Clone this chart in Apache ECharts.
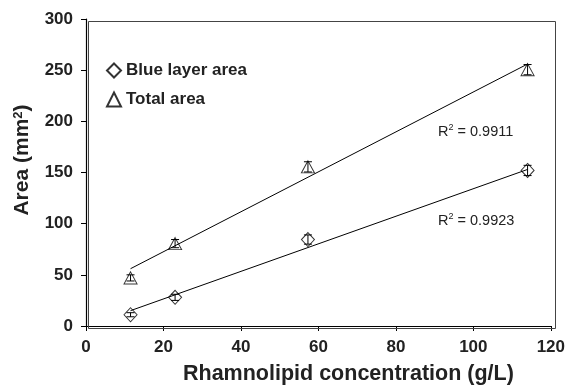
<!DOCTYPE html>
<html>
<head>
<meta charset="utf-8">
<script src="https://cdn.jsdelivr.net/npm/echarts@6/dist/echarts.min.js"></script>
<style>
html,body{margin:0;padding:0;background:#fff;}
#c{width:568px;height:387px;}
</style>
</head>
<body>
<div id="c"></div>
<script>
// ---- data ----
var concentration = [11.5, 23, 57.3, 114];
var blueArea = [11, 28, 84.5, 152];
var blueErr = [2, 3, 4.5, 5];
var totalArea = [47, 80.5, 155.5, 250.5];
var totalErr = [3, 4, 5, 5];
var blueFit = [[11.5, 15], [114, 153]];
var totalFit = [[11.5, 56], [114, 256]];
var xTicks = [0, 20, 40, 60, 80, 100, 120];
var yTicks = [0, 50, 100, 150, 200, 250, 300];
var seriesNames = ['Blue layer area', 'Total area'];

var FONT = 'Liberation Sans, Arial, Helvetica, sans-serif';
var X_MIN = xTicks[0], X_MAX = xTicks[xTicks.length - 1];
var Y_MIN = yTicks[0], Y_MAX = yTicks[yTicks.length - 1];

function pts(xs, ys) { return xs.map(function (x, i) { return [x, ys[i]]; }); }
function errs(xs, ys, es) { return xs.map(function (x, i) { return [x, ys[i] - es[i], ys[i] + es[i]]; }); }

function errRender(params, api) {
  var x = api.value(0);
  var lo = api.coord([x, api.value(1)]);
  var hi = api.coord([x, api.value(2)]);
  var w = 4;
  var st = { stroke: '#000', lineWidth: 1 };
  return {
    type: 'group',
    children: [
      { type: 'line', shape: { x1: lo[0], y1: lo[1], x2: hi[0], y2: hi[1] }, style: st },
      { type: 'line', shape: { x1: hi[0] - w, y1: hi[1], x2: hi[0] + w, y2: hi[1] }, style: st },
      { type: 'line', shape: { x1: lo[0] - w, y1: lo[1], x2: lo[0] + w, y2: lo[1] }, style: st }
    ]
  };
}

var axisLabelStyle = { color: '#222', fontSize: 17, fontWeight: 'bold', fontFamily: FONT, margin: 13 };

var chart = echarts.init(document.getElementById('c'), null, { renderer: 'canvas' });
chart.setOption({
  animation: false,
  backgroundColor: '#fff',
  textStyle: { fontFamily: FONT },
  grid: { left: 86, right: 15, top: 19, bottom: 61 },
  xAxis: {
    type: 'value', min: X_MIN, max: X_MAX, interval: 20,
    axisLine: { show: true, onZero: false, lineStyle: { color: '#000', width: 1.2 } },
    axisTick: { show: true, inside: false, length: 5, lineStyle: { color: '#000' } },
    axisLabel: axisLabelStyle,
    splitLine: { show: false }, z: 6
  },
  yAxis: {
    type: 'value', min: Y_MIN, max: Y_MAX, interval: 50,
    axisLine: { show: true, onZero: false, lineStyle: { color: '#000', width: 1.2 } },
    axisTick: { show: true, inside: false, length: 5, lineStyle: { color: '#000' } },
    axisLabel: axisLabelStyle,
    splitLine: { show: false }, z: 6
  },
  legend: {
    data: seriesNames,
    orient: 'vertical', left: 101, top: 57,
    itemWidth: 14, itemHeight: 14, itemGap: 12,
    textStyle: { fontSize: 17, fontWeight: 'bold', color: '#222', fontFamily: FONT }
  },
  graphic: [
    {
      type: 'text', left: 183, top: 363,
      style: { text: 'Rhamnolipid concentration (g/L)', font: 'bold 21.5px ' + FONT, fill: '#222' }
    },
    {
      type: 'text', x: 22, y: 160, rotation: Math.PI / 2,
      style: {
        text: 'Area (mm{s|2})', align: 'center', verticalAlign: 'middle',
        font: 'bold 21px ' + FONT, fill: '#222',
        rich: { s: { fontSize: 13, fontWeight: 'bold', fontFamily: FONT, verticalAlign: 'top', padding: [0, 0, 8, 0] } }
      }
    },
    {
      type: 'text', x: 438, y: 132,
      style: { text: 'R{s|2} = 0.9911', verticalAlign: 'middle', font: '14.5px ' + FONT, fill: '#222',
        rich: { s: { fontSize: 9, fontFamily: FONT, padding: [0, 0, 8, 0] } } }
    },
    {
      type: 'text', x: 438, y: 221,
      style: { text: 'R{s|2} = 0.9923', verticalAlign: 'middle', font: '14.5px ' + FONT, fill: '#222',
        rich: { s: { fontSize: 9, fontFamily: FONT, padding: [0, 0, 8, 0] } } }
    },
    {
      type: 'rect', left: 86, top: 19, z: 100,
      shape: { width: 467, height: 307 },
      style: { fill: 'none', stroke: '#444', lineWidth: 1 }
    }
  ],
  series: [
    {
      name: seriesNames[0], type: 'scatter', data: pts(concentration, blueArea),
      symbol: 'diamond', symbolSize: [13, 14], z: 5,
      itemStyle: { color: 'rgba(255,255,255,0)', borderColor: '#000', borderWidth: 1 }
    },
    {
      name: seriesNames[1], type: 'scatter', data: pts(concentration, totalArea),
      symbol: 'triangle', symbolSize: [13, 12], z: 5,
      itemStyle: { color: 'rgba(255,255,255,0)', borderColor: '#000', borderWidth: 1 }
    },
    { type: 'custom', renderItem: errRender, data: errs(concentration, blueArea, blueErr), z: 4, encode: { x: 0, y: [1, 2] } },
    { type: 'custom', renderItem: errRender, data: errs(concentration, totalArea, totalErr), z: 4, encode: { x: 0, y: [1, 2] } },
    { type: 'line', data: blueFit, symbol: 'none', lineStyle: { color: '#000', width: 1 }, z: 3, silent: true },
    { type: 'line', data: totalFit, symbol: 'none', lineStyle: { color: '#000', width: 1 }, z: 3, silent: true }
  ]
});
</script>
</body>
</html>
